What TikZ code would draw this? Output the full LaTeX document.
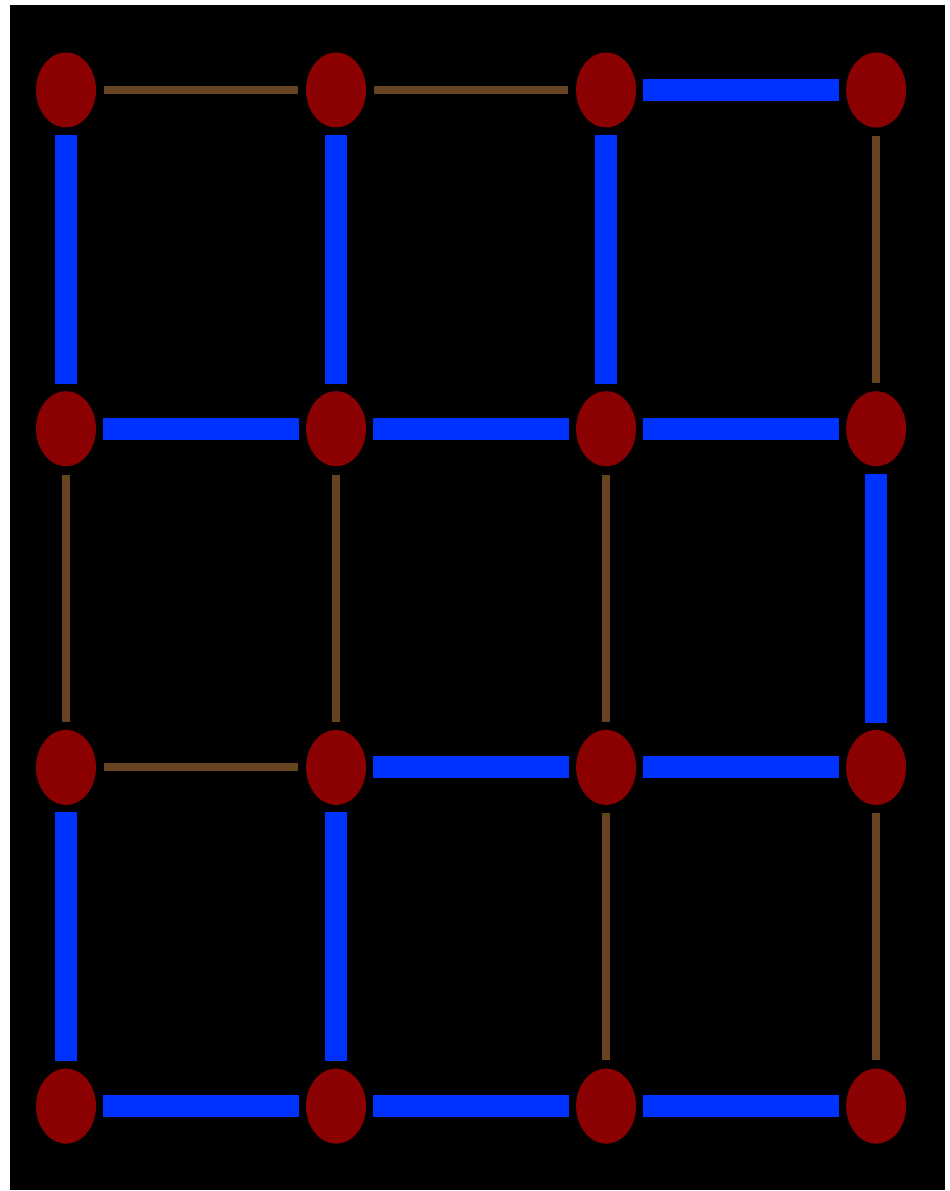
\documentclass[tikz,border=0pt]{standalone}
\usepackage{xcolor}
\usepackage{tikz}
\usetikzlibrary{shapes.geometric,positioning}
\definecolor{vred}{RGB}{139,0,0}
\definecolor{eblue}{RGB}{0,51,255}
\definecolor{ebrown}{RGB}{102,68,34}
\tikzset{
  vtx/.style={ellipse, fill=vred, minimum width=1.2cm, minimum height=1.5cm,
              inner sep=0pt},
  thick edge/.style={draw=eblue, line width=0.44cm, shorten >=0.14cm, shorten <=0.14cm},
  thin edge/.style={draw=ebrown, line width=0.16cm, shorten >=0.16cm, shorten <=0.16cm}
}

\begin{document}
\begin{tikzpicture}[node distance=5.26cm and 4.187cm]
  \useasboundingbox (0,0) rectangle (18.98,-23.82);
  \fill[black] (0.2,-0.1) rectangle (18.9,-23.8);
  % first row
  \node[vtx] (a1) at (1.32,-1.8) {};
  \node[vtx, right=of a1] (b1) {};
  \node[vtx, right=of b1] (c1) {};
  \node[vtx, right=of c1] (d1) {};
  % second row
  \node[vtx, below=of a1] (a2) {};
  \node[vtx, right=of a2] (b2) {};
  \node[vtx, right=of b2] (c2) {};
  \node[vtx, right=of c2] (d2) {};
  % third row
  \node[vtx, below=of a2] (a3) {};
  \node[vtx, right=of a3] (b3) {};
  \node[vtx, right=of b3] (c3) {};
  \node[vtx, right=of c3] (d3) {};
  % fourth row
  \node[vtx, below=of a3] (a4) {};
  \node[vtx, right=of a4] (b4) {};
  \node[vtx, right=of b4] (c4) {};
  \node[vtx, right=of c4] (d4) {};
  % horizontal edges
  \draw[thin edge] (a1) -- (b1);
  \draw[thin edge] (b1) -- (c1);
  \draw[thick edge] (c1) -- (d1);
  \draw[thick edge] (a2) -- (b2);
  \draw[thick edge] (b2) -- (c2);
  \draw[thick edge] (c2) -- (d2);
  \draw[thin edge] (a3) -- (b3);
  \draw[thick edge] (b3) -- (c3);
  \draw[thick edge] (c3) -- (d3);
  \draw[thick edge] (a4) -- (b4);
  \draw[thick edge] (b4) -- (c4);
  \draw[thick edge] (c4) -- (d4);
  % vertical edges
  \draw[thick edge] (a1) -- (a2);
  \draw[thick edge] (b1) -- (b2);
  \draw[thick edge] (c1) -- (c2);
  \draw[thin edge] (d1) -- (d2);
  \draw[thin edge] (a2) -- (a3);
  \draw[thin edge] (b2) -- (b3);
  \draw[thin edge] (c2) -- (c3);
  \draw[thick edge] (d2) -- (d3);
  \draw[thick edge] (a3) -- (a4);
  \draw[thick edge] (b3) -- (b4);
  \draw[thin edge] (c3) -- (c4);
  \draw[thin edge] (d3) -- (d4);
\end{tikzpicture}
\end{document}
